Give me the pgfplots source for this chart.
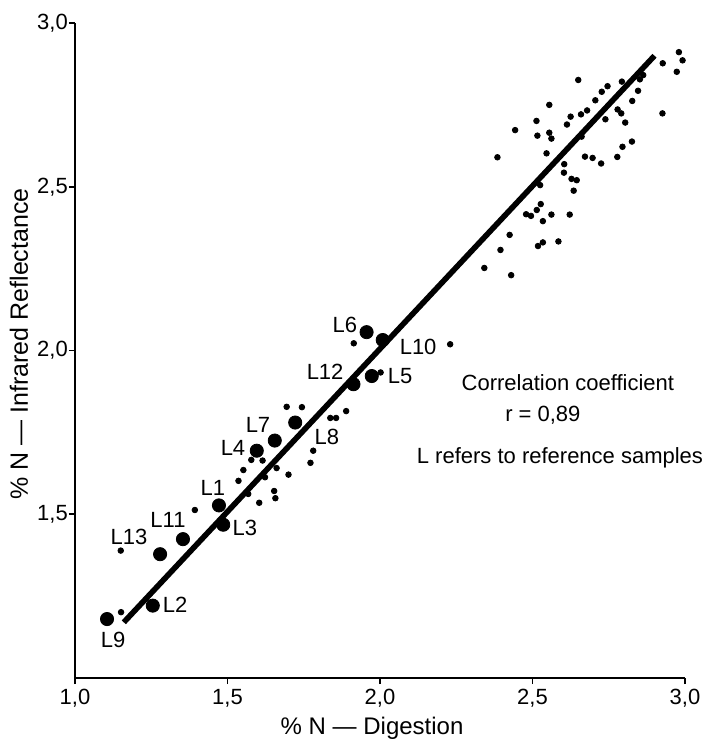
\documentclass[border=0pt]{standalone}
\usepackage{fontspec}
\setmainfont{Liberation Sans}
\usepackage{pgfplots}
\pgfplotsset{compat=1.18}
\begin{document}
\begin{tikzpicture}
\useasboundingbox (-37.5pt,-33pt) rectangle (317.5pt,339pt);
\begin{axis}[
  scale only axis,
  width=305pt, height=327.5pt,
  xmin=1, xmax=3, ymin=1, ymax=3,
  axis x line*=bottom, axis y line*=left,
  axis line style={-, line width=1.4pt},
  xtick={1,1.5,2,2.5,3}, ytick={1.5,2,2.5,3},
  tick align=outside, major tick length=3pt,
  tick style={line width=0.8pt, black},
  /pgf/number format/assume math mode=true,
  /pgf/number format/use comma,
  /pgf/number format/fixed, /pgf/number format/fixed zerofill,
  /pgf/number format/precision=1,
  tick label style={font=\fontsize{11}{13}\selectfont},
  yticklabel style={inner sep=0.4pt},
  xticklabel style={inner sep=2.5pt},
  xlabel={\% N --- Digestion},
  ylabel={\% N --- Infrared Reflectance},
  every axis x label/.style={at={(axis description cs:0.487,-0.077)}, anchor=center, font=\fontsize{12}{14}\selectfont},
  every axis y label/.style={at={(axis description cs:-0.092,0.51)}, rotate=90, anchor=center, font=\fontsize{12.5}{14}\selectfont},
  clip=false,
]
% regression line
\addplot[black, line width=2.8pt] coordinates {(1.16,1.17) (2.90,2.90)};
% ordinary samples
\addplot[only marks, mark=*, mark size=1.4pt, black] coordinates {
(1.151,1.201) (1.150,1.389) (1.393,1.513) (1.552,1.635) (1.536,1.602)
(1.578,1.666) (1.615,1.664) (1.568,1.562) (1.623,1.613) (1.604,1.535)
(1.653,1.571) (1.657,1.549) (1.661,1.641) (1.700,1.621) (1.694,1.828)
(1.744,1.827) (1.781,1.694) (1.772,1.657) (1.837,1.794) (1.856,1.794)
(1.889,1.815) (1.914,2.022) (2.230,2.019) (2.002,1.933)
(2.385,2.590) (2.516,2.656) (2.546,2.602) (2.443,2.673) (2.525,2.505)
(2.527,2.447) (2.514,2.429) (2.479,2.416) (2.495,2.411) (2.534,2.395)
(2.425,2.353) (2.395,2.307) (2.342,2.252) (2.430,2.230) (2.518,2.319)
(2.534,2.330) (2.980,2.911) (2.992,2.886) (2.927,2.877) (2.973,2.851)
(2.926,2.724) (2.650,2.826) (2.555,2.750) (2.513,2.701) (2.555,2.665)
(2.562,2.647) (2.746,2.807) (2.727,2.790) (2.706,2.764) (2.793,2.821)
(2.679,2.733) (2.659,2.721) (2.625,2.714) (2.613,2.690) (2.739,2.706)
(2.779,2.736) (2.791,2.724) (2.804,2.696) (2.846,2.793) (2.827,2.762)
(2.863,2.841) (2.852,2.828) (2.826,2.638) (2.795,2.622) (2.778,2.591)
(2.725,2.571) (2.697,2.588) (2.672,2.592) (2.661,2.653) (2.604,2.569)
(2.603,2.543) (2.628,2.524) (2.645,2.520) (2.635,2.488) (2.562,2.415)
(2.622,2.415) (2.585,2.333)
};
% reference samples
\addplot[only marks, mark=*, mark size=3.3pt, black] coordinates {
(1.105,1.180) (1.255,1.221) (1.279,1.378) (1.354,1.424) (1.472,1.527)
(1.486,1.468) (1.596,1.694) (1.655,1.725) (1.722,1.780) (1.913,1.897)
(1.973,1.922) (1.956,2.056) (2.009,2.032)
};
\begin{scope}[every node/.style={font=\fontsize{11}{13}\selectfont, inner sep=0pt}]
\node at (axis cs:1.125,1.116) {L9};
\node at (axis cs:1.328,1.223) {L2};
\node at (axis cs:1.177,1.431) {L13};
\node at (axis cs:1.305,1.482) {L11};
\node at (axis cs:1.452,1.580) {L1};
\node at (axis cs:1.557,1.458) {L3};
\node at (axis cs:1.518,1.702) {L4};
\node at (axis cs:1.600,1.773) {L7};
\node at (axis cs:1.826,1.736) {L8};
\node at (axis cs:1.820,1.934) {L12};
\node at (axis cs:2.066,1.922) {L5};
\node at (axis cs:1.885,2.078) {L6};
\node at (axis cs:2.125,2.011) {L10};
\node at (axis cs:2.616,1.901) {Correlation coefficient};
\node at (axis cs:2.534,1.803) {r = 0,89};
\node at (axis cs:2.590,1.672) {L refers to reference samples};
\end{scope}
\end{axis}
\end{tikzpicture}
\end{document}
